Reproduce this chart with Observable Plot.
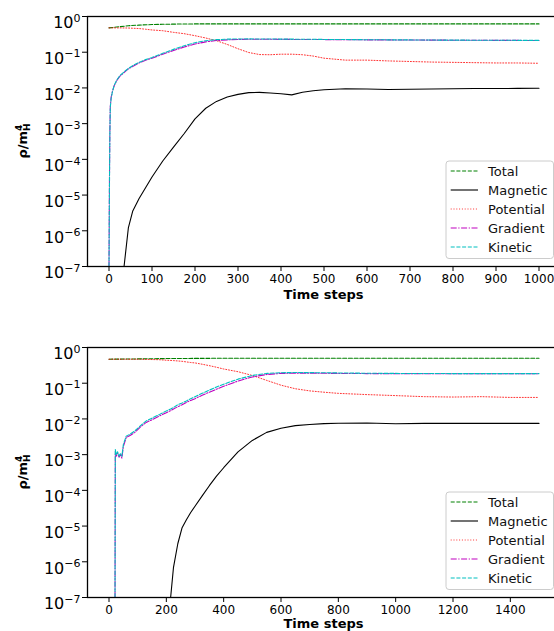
<!DOCTYPE html>
<html><head><meta charset="utf-8">
<script src="https://cdn.jsdelivr.net/npm/d3@7"></script>
<script src="https://cdn.jsdelivr.net/npm/@observablehq/plot@0.6"></script>
<style>
html,body{margin:0;padding:0;background:#fff;overflow:hidden;}
#charts svg{display:block;}
</style></head><body><div id="charts"></div>
<script>
// ---------- shared ----------
const seriesNames = ["Total", "Magnetic", "Potential", "Gradient", "Kinetic"];
const seriesColors = ["#008000", "#000000", "#ff0000", "#bf00bf", "#00bfbf"];
const seriesDashes = ["4,1.7", null, "1,1.8", "6,1.6,1.2,1.6", "4,1.7"];
const yTicks = [1e-7, 1e-6, 1e-5, 1e-4, 1e-3, 1e-2, 1e-1, 1];

// ---------- top panel ----------
const steps1 = [0,1,2,3,5,8,12,18,25,35,45,55,70,85,100,125,150,175,200,225,250,275,300,325,350,375,400,425,450,475,500,550,600,650,700,750,800,850,900,950,1000];
const xTicks1 = [0,100,200,300,400,500,600,700,800,900,1000];
const total1 = [0.48,null,null,null,null,null,null,null,0.52,null,0.55,null,0.575,null,0.595,0.605,0.612,0.617,0.62,0.62,0.62,0.62,0.62,0.62,0.62,0.62,0.62,0.62,0.62,0.62,0.62,0.62,0.62,0.62,0.62,0.62,0.62,0.62,0.62,0.62,0.62];
const magnetic1 = [null,null,null,null,null,null,null,null,null,1e-7,1.2e-6,3.5e-6,8e-6,1.6e-5,3.2e-5,9e-5,2.2e-4,5.3e-4,1.36e-3,2.7e-3,4.2e-3,5.6e-3,6.6e-3,7.4e-3,7.5e-3,7.2e-3,6.9e-3,6.4e-3,7.6e-3,8.3e-3,8.9e-3,9.5e-3,9.3e-3,9.0e-3,9.2e-3,9.3e-3,9.5e-3,9.6e-3,9.6e-3,9.7e-3,9.8e-3];
const potential1 = [0.48,null,null,null,null,null,null,null,0.48,null,0.475,null,0.46,0.44,0.42,0.40,0.36,0.33,0.29,0.25,0.21,0.165,0.125,0.098,0.086,0.085,0.088,0.088,0.085,0.078,0.068,0.06,0.06,0.057,0.055,0.053,0.052,0.051,0.05,0.05,0.049];
const gradient1 = [1e-7,2e-5,6e-4,3e-3,5.5e-3,8e-3,0.0115,0.016,0.021,0.027,0.034,0.04,0.05,0.06,0.068,0.088,0.112,0.14,0.17,0.195,0.212,0.222,0.228,0.23,0.23,0.23,0.229,0.228,0.228,0.227,0.226,0.224,0.222,0.221,0.22,0.218,0.217,0.216,0.215,0.214,0.213];
const kinetic1 = [1e-7,1.5e-5,5e-4,2.8e-3,5.2e-3,7.8e-3,0.0118,0.0165,0.022,0.028,0.035,0.042,0.052,0.062,0.071,0.093,0.12,0.152,0.185,0.21,0.225,0.232,0.235,0.236,0.235,0.234,0.233,0.232,0.231,0.23,0.228,0.226,0.224,0.222,0.221,0.219,0.218,0.217,0.216,0.215,0.214];

// ---------- bottom panel ----------
const steps2 = [0,21,22,25,30,35,40,45,50,60,75,90,110,130,150,175,200,215,225,240,255,270,285,300,325,350,375,400,450,500,550,600,650,700,750,800,900,1000,1100,1200,1300,1400,1500];
const xTicks2 = [0,200,400,600,800,1000,1200,1400];
const total2 = [0.47,null,null,null,null,null,null,null,null,null,null,null,0.48,null,null,null,0.49,null,null,null,null,null,null,0.495,null,null,null,0.5,0.5,0.5,0.5,0.5,0.5,0.5,0.5,0.5,0.5,0.5,0.5,0.5,0.5,0.5,0.5];
const magnetic2 = [null,null,null,null,null,null,null,null,null,null,null,null,null,null,null,null,null,1e-7,7e-7,3.2e-6,9e-6,1.5e-5,2.4e-5,3.6e-5,7e-5,1.35e-4,2.5e-4,4.3e-4,1.2e-3,2.5e-3,4.2e-3,5.5e-3,6.5e-3,7.0e-3,7.4e-3,7.6e-3,7.7e-3,7.3e-3,7.5e-3,7.5e-3,7.5e-3,7.5e-3,7.5e-3];
const potential2 = [0.47,null,null,null,null,null,null,null,null,null,null,null,0.47,null,0.46,0.455,0.44,null,0.43,null,0.41,null,0.38,0.37,0.34,0.31,0.28,0.25,0.21,0.165,0.12,0.088,0.07,0.061,0.056,0.052,0.048,0.045,0.042,0.041,0.042,0.04,0.04];
const gradient2 = [null,1e-7,1.2e-3,9e-4,1.1e-3,8.5e-4,1e-3,8e-4,1.7e-3,3e-3,3.5e-3,4.2e-3,6e-3,8e-3,9.5e-3,0.012,0.015,0.017,0.019,0.022,0.025,0.029,0.033,0.037,0.046,0.056,0.068,0.082,0.115,0.15,0.175,0.188,0.192,0.192,0.19,0.188,0.186,0.185,0.185,0.184,0.184,0.184,0.184];
const kinetic2 = [null,1e-7,1.4e-3,1e-3,1.2e-3,9e-4,1.1e-3,9e-4,1.9e-3,3.3e-3,3.8e-3,4.6e-3,6.5e-3,8.8e-3,0.0105,0.0132,0.0168,0.019,0.021,0.025,0.028,0.032,0.037,0.042,0.052,0.064,0.078,0.094,0.13,0.165,0.188,0.197,0.199,0.198,0.196,0.194,0.19,0.188,0.187,0.186,0.186,0.186,0.186];

const FONT = "DejaVu Sans, sans-serif";

function makeChart({steps, values, xDomain, xTicks, height, marginTop, marginBottom, xLabelOffset}) {
  const W = 554, ML = 87, MR = -6;
  const marks = [];
  seriesNames.forEach((name, k) => {
    const rows = [];
    values[k].forEach((v, i) => { if (v != null) rows.push({t: steps[i], v}); });
    marks.push(Plot.line(rows, {
      x: "t", y: "v", stroke: seriesColors[k], strokeWidth: k === 2 ? 1 : 1.1,
      strokeOpacity: k === 2 ? 0.8 : 1,
      strokeDasharray: seriesDashes[k] || undefined
    }));
  });
  marks.push(Plot.frame({stroke: "black", strokeWidth: 1.3}));
  const svg = Plot.plot({
    width: W, height, marginLeft: ML, marginRight: MR, marginTop, marginBottom,
    style: {fontFamily: FONT, fontSize: "12px", background: "#fff", overflow: "hidden", color: "black"},
    x: {domain: xDomain, ticks: xTicks, tickSize: 5, tickPadding: 3, label: null, tickFormat: d => String(d)},
    y: {type: "log", domain: [1e-7, 1], ticks: yTicks, tickSize: 5, tickPadding: 2, label: null,
        tickFormat: d => "10^" + Math.round(Math.log10(d))},
    marks
  });
  const s = d3.select(svg);
  // superscript tick labels
  s.selectAll('g[aria-label^="y-axis"] text').each(function () {
    const t = d3.select(this);
    const m = /^10\^(-?\d+)$/.exec(t.text());
    if (!m) return;
    t.text("10").attr("font-size", 16).attr("dy", "0.42em");
    t.append("tspan").attr("font-size", 11).attr("dy", "-0.6em").text(m[1].replace("-", "\u2212"));
  });
  const fTop = marginTop, fBot = height - marginBottom, fRight = W - MR;
  // y label
  const yl = s.append("text")
    .attr("transform", `translate(22,${(fTop + fBot) / 2}) rotate(-90)`)
    .attr("text-anchor", "middle").attr("dy", "0.35em")
    .attr("font-weight", "bold").attr("font-size", 13).attr("font-family", FONT).attr("fill", "black");
  yl.append("tspan").text("ρ/m");
  yl.append("tspan").attr("font-size", 9).attr("dy", 3).text("H");
  yl.append("tspan").attr("font-size", 9).attr("dx", -7.5).attr("dy", -8).text("4");
  // x label
  s.append("text")
    .attr("x", (ML + fRight) / 2).attr("y", fBot + xLabelOffset)
    .attr("text-anchor", "middle").attr("font-weight", "bold").attr("font-size", 13)
    .attr("font-family", FONT).attr("fill", "black").text("Time steps");
  // legend
  const boxW = 107.5, boxH = 97.5;
  const bx = fRight - 6.5 - boxW, by = fBot - 7.5 - boxH;
  const lg = s.append("g").attr("font-family", FONT).attr("font-size", 13).attr("text-anchor", "start");
  lg.append("rect").attr("x", bx).attr("y", by).attr("width", boxW).attr("height", boxH)
    .attr("rx", 3).attr("fill", "white").attr("fill-opacity", 0.8).attr("stroke", "#cccccc").attr("stroke-width", 1);
  seriesNames.forEach((name, k) => {
    const cy = by + 10 + 19 * k;
    lg.append("line").attr("x1", bx + 4.7).attr("x2", bx + 32).attr("y1", cy).attr("y2", cy)
      .attr("stroke", seriesColors[k]).attr("stroke-width", k === 2 ? 1 : 1.1)
      .attr("stroke-opacity", k === 2 ? 0.8 : 1)
      .attr("stroke-dasharray", seriesDashes[k] || null);
    lg.append("text").attr("x", bx + 42).attr("y", cy).attr("dy", "0.35em")
      .attr("text-anchor", "start").attr("fill", "#111").text(name);
  });
  return svg;
}

const root = document.getElementById("charts");
root.appendChild(makeChart({
  steps: steps1, values: [total1, magnetic1, potential1, gradient1, kinetic1],
  xDomain: [-50, 1050], xTicks: xTicks1, height: 315, marginTop: 16, marginBottom: 49, xLabelOffset: 33
}));
root.appendChild(makeChart({
  steps: steps2, values: [total2, magnetic2, potential2, gradient2, kinetic2],
  xDomain: [-75, 1575], xTicks: xTicks2, height: 316, marginTop: 32, marginBottom: 34, xLabelOffset: 30.5
}));
</script></body></html>
